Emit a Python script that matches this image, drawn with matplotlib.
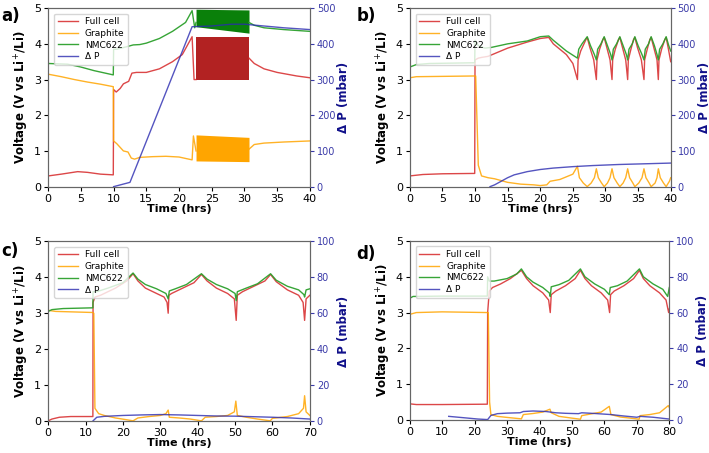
import numpy as np
import matplotlib.pyplot as plt

# ---------------- panel a (0-40 h, dP 0-500 mbar) ----------------
a_full_t = [0, 2, 4.5, 6, 8, 9.95, 10.0, 10.4, 11, 11.5, 12.3, 12.8, 13.5, 15, 17, 19, 20.5, 22.0, 22.3, 22.6]
a_full_v = [0.30, 0.35, 0.42, 0.40, 0.35, 0.33, 2.72, 2.65, 2.75, 2.88, 2.95, 3.18, 3.20, 3.20, 3.30, 3.50, 3.70, 4.20, 3.00, 3.00]
a_full_t2 = [30.7, 31.5, 33, 35, 38, 40]
a_full_v2 = [3.60, 3.45, 3.30, 3.20, 3.10, 3.05]

a_gr_t = [0, 2, 4, 6, 8, 9.95, 10.0, 10.5, 11, 11.5, 12.2, 12.7, 13.2, 14, 16, 18, 20, 22.0, 22.2, 22.6]
a_gr_v = [3.15, 3.08, 3.00, 2.93, 2.87, 2.80, 1.28, 1.20, 1.10, 1.00, 0.97, 0.80, 0.77, 0.82, 0.84, 0.85, 0.83, 0.75, 1.42, 1.00]
a_gr_t2 = [30.7, 31.5, 33, 36, 40]
a_gr_v2 = [1.05, 1.18, 1.22, 1.25, 1.28]

a_nmc_t = [0, 3, 5, 7, 9.95, 10.0, 10.5, 12, 13, 14, 15, 17, 19, 21, 22.0, 22.4, 22.6]
a_nmc_v = [3.45, 3.43, 3.35, 3.25, 3.13, 3.85, 3.85, 3.92, 3.97, 3.98, 4.02, 4.15, 4.35, 4.60, 4.93, 4.45, 4.60]
a_nmc_t2 = [30.7, 31.5, 33, 36, 40]
a_nmc_v2 = [4.60, 4.52, 4.45, 4.40, 4.35]

# dense cycling block 22.6-30.7 h: envelopes
a_cyc_t = [22.6, 30.7]
a_full_lo, a_full_hi = [3.00, 3.00], [4.20, 4.20]
a_gr_lo, a_gr_hi = [0.72, 0.70], [1.45, 1.38]
a_nmc_lo, a_nmc_hi = [4.48, 4.30], [4.97, 4.95]

a_dp_t = [10, 12.5, 22.0, 25, 28, 30, 33, 36, 40]
a_dp_v = [0, 12, 448, 450, 455, 455, 450, 445, 440]

# ---------------- panel b (0-40 h, dP 0-500 mbar) ----------------
b_full_t = [0, 2, 5, 9.95, 10.0, 10.5, 11, 12, 15, 18, 20, 21.3, 22, 23, 24, 25, 25.7,
            25.8, 26.2, 27.0, 27.2, 27.6, 28.2, 28.6,
            28.7, 29.1, 29.6, 29.8, 30.2, 30.7, 31.0,
            31.1, 31.5, 32.0, 32.2, 32.6, 33.1, 33.4,
            33.5, 33.9, 34.3, 34.5, 34.9, 35.5, 35.9,
            36.0, 36.4, 36.8, 37.0, 37.4, 37.9, 38.1,
            38.2, 38.6, 39.1, 39.3, 39.6, 40]
b_full_v = [0.30, 0.34, 0.36, 0.37, 3.55, 3.60, 3.62, 3.65, 3.88, 4.05, 4.15, 4.18, 4.00, 3.85, 3.70, 3.45, 3.00,
            3.55, 3.80, 4.12, 4.18, 3.90, 3.55, 3.00,
            3.55, 3.85, 4.12, 4.18, 3.90, 3.55, 3.00,
            3.55, 3.85, 4.12, 4.18, 3.90, 3.55, 3.00,
            3.55, 3.85, 4.12, 4.18, 3.90, 3.55, 3.00,
            3.55, 3.85, 4.12, 4.18, 3.90, 3.55, 3.00,
            3.55, 3.85, 4.12, 4.18, 3.90, 3.50]

b_nmc_t = [0, 1, 3, 9.95, 10.0, 10.5, 11.5, 12.5, 15, 18, 20, 21.3, 22, 24, 25.7,
           25.9, 26.4, 27.2, 27.7, 28.3, 28.6,
           28.8, 29.3, 29.8, 30.3, 30.8, 31.0,
           31.2, 31.7, 32.2, 32.7, 33.2, 33.4,
           33.6, 34.1, 34.5, 35.0, 35.6, 35.9,
           36.1, 36.6, 37.0, 37.5, 37.9, 38.1,
           38.3, 38.8, 39.3, 39.7, 40]
b_nmc_v = [3.35, 3.42, 3.45, 3.47, 4.10, 3.95, 3.88, 3.90, 4.00, 4.08, 4.20, 4.22, 4.10, 3.80, 3.60,
           3.85, 4.00, 4.20, 3.95, 3.70, 3.55,
           3.85, 4.00, 4.20, 3.95, 3.70, 3.55,
           3.85, 4.00, 4.20, 3.95, 3.70, 3.55,
           3.85, 4.00, 4.20, 3.95, 3.70, 3.55,
           3.85, 4.00, 4.20, 3.95, 3.70, 3.55,
           3.85, 4.00, 4.20, 3.95, 3.80]

b_gr_t = [0, 1, 9.95, 10.1, 10.5, 11, 12, 13, 15, 17, 19, 20, 21, 21.5, 23, 25, 25.7,
          26.0, 26.6, 27.2, 27.8, 28.3, 28.6,
          28.9, 29.4, 29.8, 30.3, 30.7, 31.0,
          31.3, 31.8, 32.2, 32.7, 33.1, 33.4,
          33.7, 34.2, 34.5, 35.1, 35.6, 35.9,
          36.2, 36.7, 37.0, 37.6, 37.9, 38.1,
          38.4, 38.9, 39.3, 39.8, 40]
b_gr_v = [3.05, 3.08, 3.10, 3.10, 0.60, 0.30, 0.25, 0.22, 0.12, 0.07, 0.05, 0.03, 0.05, 0.15, 0.20, 0.35, 0.57,
          0.25, 0.10, 0.00, 0.10, 0.25, 0.50,
          0.25, 0.10, 0.00, 0.10, 0.25, 0.50,
          0.25, 0.10, 0.00, 0.10, 0.25, 0.50,
          0.25, 0.10, 0.00, 0.10, 0.25, 0.50,
          0.25, 0.10, 0.00, 0.10, 0.25, 0.50,
          0.25, 0.10, 0.00, 0.15, 0.25]

b_dp_t = [12.3, 13, 14, 15, 16, 18, 20, 22, 25, 28, 32, 36, 40]
b_dp_v = [0, 5, 15, 25, 33, 42, 48, 52, 56, 59, 62, 64, 66]

# ---------------- panel c (0-70 h, dP 0-100 mbar) ----------------
c_full_t = [0, 1, 3, 6, 11.95, 12.0, 12.5, 14, 18, 21, 22.7, 24, 26, 29, 31, 31.8, 32.1, 32.3, 33, 36, 39, 41,
            42.5, 45, 48, 49.8, 50.3, 50.6, 52, 55, 58, 59.5, 61, 64, 67, 68.2, 68.6, 69, 70]
c_full_v = [0.00, 0.05, 0.10, 0.12, 0.12, 3.30, 3.45, 3.50, 3.70, 3.90, 4.10, 3.90, 3.70, 3.55, 3.45, 3.30, 3.00, 3.50, 3.55, 3.70, 3.85, 4.08,
            3.90, 3.70, 3.55, 3.40, 2.80, 3.50, 3.60, 3.75, 3.90, 4.08, 3.88, 3.65, 3.50, 3.30, 2.80, 3.40, 3.50]

c_nmc_t = [0, 1, 4, 11.95, 12.0, 13, 16, 20, 22.7, 24, 26, 29, 31.5, 32.1, 32.4, 34, 37, 41, 42.5, 45, 48, 50,
           50.3, 50.6, 53, 56, 59.5, 61, 64, 67, 68.4, 68.6, 69, 70]
c_nmc_v = [3.05, 3.10, 3.13, 3.15, 3.60, 3.60, 3.70, 3.85, 4.12, 3.95, 3.80, 3.68, 3.55, 3.40, 3.62, 3.68, 3.80, 4.10, 3.95, 3.80, 3.68, 3.55,
           3.35, 3.60, 3.70, 3.82, 4.10, 3.92, 3.75, 3.65, 3.52, 3.45, 3.65, 3.68]

c_gr_t = [0, 2, 11.9, 12.2, 12.5, 13.5, 15, 18, 21, 22.7, 24, 27, 30, 31.5, 32.1, 32.4, 35, 38, 41, 42, 45, 48,
          49.8, 50.2, 50.6, 53, 56, 59.4, 60, 64, 67, 68.3, 68.6, 69, 70]
c_gr_v = [3.08, 3.05, 3.02, 3.00, 0.35, 0.20, 0.15, 0.08, 0.03, 0.00, 0.08, 0.12, 0.15, 0.20, 0.30, 0.10, 0.08, 0.05, 0.00, 0.10, 0.12, 0.15,
          0.25, 0.55, 0.15, 0.10, 0.05, 0.00, 0.07, 0.12, 0.20, 0.35, 0.70, 0.25, 0.15]

c_dp_t = [12, 12.5, 13, 15, 20, 25, 30, 35, 40, 45, 50, 55, 60, 65, 70]
c_dp_v = [0, 1, 2, 2.5, 3.0, 3.3, 3.5, 3.3, 3.0, 2.7, 2.6, 2.3, 2.0, 1.6, 1.0]

# ---------------- panel d (0-80 h, dP 0-100 mbar) ----------------
d_full_t = [0, 2, 10, 23.9, 24.0, 24.5, 25.5, 28, 31, 34.4, 36, 38, 41, 42.8, 43.3, 43.6, 45, 48, 51, 52.6,
            54, 56, 59, 61, 61.6, 61.9, 63, 66, 69, 70.8, 72, 74, 77, 79, 79.8, 80]
d_full_v = [0.45, 0.43, 0.43, 0.44, 3.00, 3.60, 3.70, 3.80, 3.95, 4.18, 3.95, 3.75, 3.55, 3.35, 3.00, 3.50, 3.60, 3.75, 3.95, 4.18,
            3.95, 3.75, 3.55, 3.35, 3.00, 3.50, 3.60, 3.75, 3.95, 4.18, 3.95, 3.75, 3.55, 3.35, 3.00, 3.10]

d_nmc_t = [0, 1, 10, 23.9, 24.0, 24.5, 26, 30, 33, 34.4, 36, 38, 41, 43, 43.3, 43.6, 46, 49, 52.6,
           54, 57, 60, 61.5, 61.8, 64, 67, 70.8, 72, 75, 78, 79.5, 80]
d_nmc_v = [3.40, 3.45, 3.46, 3.46, 4.00, 3.88, 3.88, 3.95, 4.08, 4.22, 4.00, 3.85, 3.70, 3.55, 3.45, 3.72, 3.78, 3.90, 4.22,
           4.00, 3.80, 3.65, 3.50, 3.70, 3.75, 3.88, 4.22, 4.00, 3.80, 3.65, 3.45, 3.70]

d_gr_t = [0, 2, 10, 24.2, 24.6, 25, 27, 30, 34.4, 35, 38, 41, 43.2, 43.6, 46, 50, 52.6, 53, 56, 59,
          61.5, 62, 65, 68, 70.7, 71, 74, 77, 79.7, 80]
d_gr_v = [2.95, 3.00, 3.02, 3.00, 0.50, 0.15, 0.10, 0.07, 0.03, 0.15, 0.18, 0.22, 0.30, 0.20, 0.10, 0.05, 0.02, 0.12, 0.17, 0.22,
          0.38, 0.15, 0.08, 0.05, 0.02, 0.12, 0.15, 0.20, 0.40, 0.35]

d_dp_t = [12, 15, 18, 21, 24, 25, 27, 30, 34, 35, 38, 42, 45, 48, 52, 53, 57, 62, 66, 70, 71, 75, 80]
d_dp_v = [2.0, 1.5, 1.0, 0.5, 0.2, 2.5, 3.5, 3.8, 4.0, 4.7, 5.0, 4.7, 4.0, 3.7, 3.5, 4.0, 3.6, 3.0, 2.2, 1.5, 2.0, 1.5, 0.5]

C_FULL = '#d62728'
C_GR = '#ffa500'
C_NMC = '#2ca02c'
C_DP = '#2a2ab0'
C_RAX = '#3a3aa8'

fig = plt.figure(figsize=(7.09, 4.53), dpi=100)
rects = {
    'a': [0.068, 0.588, 0.369, 0.394],
    'b': [0.578, 0.588, 0.368, 0.394],
    'c': [0.068, 0.071, 0.369, 0.396],
    'd': [0.578, 0.073, 0.366, 0.395],
}
letters_pos = {'a': (0.002, 0.985), 'b': (0.503, 0.985), 'c': (0.002, 0.465), 'd': (0.503, 0.46)}

panels = {
    'a': dict(full=[(a_full_t, a_full_v), (a_full_t2, a_full_v2)], gr=[(a_gr_t, a_gr_v), (a_gr_t2, a_gr_v2)],
              nmc=[(a_nmc_t, a_nmc_v), (a_nmc_t2, a_nmc_v2)], dp=(a_dp_t, a_dp_v), xmax=40, xstep=5, pmax=500, pstep=100),
    'b': dict(full=[(b_full_t, b_full_v)], gr=[(b_gr_t, b_gr_v)], nmc=[(b_nmc_t, b_nmc_v)],
              dp=(b_dp_t, b_dp_v), xmax=40, xstep=5, pmax=500, pstep=100),
    'c': dict(full=[(c_full_t, c_full_v)], gr=[(c_gr_t, c_gr_v)], nmc=[(c_nmc_t, c_nmc_v)],
              dp=(c_dp_t, c_dp_v), xmax=70, xstep=10, pmax=100, pstep=20),
    'd': dict(full=[(d_full_t, d_full_v)], gr=[(d_gr_t, d_gr_v)], nmc=[(d_nmc_t, d_nmc_v)],
              dp=(d_dp_t, d_dp_v), xmax=80, xstep=10, pmax=100, pstep=20),
}

for key, p in panels.items():
    ax = fig.add_axes(rects[key])
    lw = 1.0
    for i, (t, v) in enumerate(p['full']):
        ax.plot(t, v, color=C_FULL, lw=lw, alpha=0.85, label='Full cell' if i == 0 else None)
    for i, (t, v) in enumerate(p['gr']):
        ax.plot(t, v, color=C_GR, lw=lw, alpha=0.85, label='Graphite' if i == 0 else None)
    for i, (t, v) in enumerate(p['nmc']):
        ax.plot(t, v, color=C_NMC, lw=lw, alpha=0.95, label='NMC622' if i == 0 else None)
    if key == 'a':
        ax.fill_between(a_cyc_t, a_full_lo, a_full_hi, color='#b22222', lw=0)
        ax.fill_between(a_cyc_t, a_gr_lo, a_gr_hi, color='#ffa500', lw=0)
        ax.fill_between(a_cyc_t, a_nmc_lo, a_nmc_hi, color='#0a800a', lw=0)
    ax.set_xlim(0, p['xmax'])
    ax.set_ylim(0, 5)
    ax.set_xticks(np.arange(0, p['xmax'] + 1, p['xstep']))
    ax.set_yticks(range(0, 6))
    ax.tick_params(labelsize=8, length=3, pad=2)
    ax.set_xlabel('Time (hrs)', fontsize=8, fontweight='bold', labelpad=0)
    ax.set_ylabel('Voltage (V vs Li$^{+}$/Li)', fontsize=8.5, fontweight='bold', labelpad=2)
    for s in ax.spines.values():
        s.set_color('#666666')

    ax2 = ax.twinx()
    ax2.plot(p['dp'][0], p['dp'][1], color=C_DP, lw=lw, alpha=0.8, label='Δ P')
    ax2.set_ylim(0, p['pmax'])
    ax2.set_yticks(np.arange(0, p['pmax'] + 1, p['pstep']))
    ax2.tick_params(labelsize=7, length=3, pad=2, colors=C_RAX)
    ax2.set_ylabel('Δ P (mbar)', fontsize=8.5, fontweight='bold', color='#10108a', labelpad=1)
    for s in ax2.spines.values():
        s.set_color('#666666')

    h1, l1 = ax.get_legend_handles_labels()
    h2, l2 = ax2.get_legend_handles_labels()
    leg = ax2.legend(h1 + h2, l1 + l2, loc='upper left', fontsize=6.5, frameon=True,
                     labelspacing=0.3, handlelength=2.2, borderpad=0.4, bbox_to_anchor=(0.005, 0.995))
    leg.get_frame().set_edgecolor('#cccccc')

    lx, ly = letters_pos[key]
    fig.text(lx, ly, f'{key})', fontsize=12, fontweight='bold', va='top', ha='left')

plt.savefig('out.png', dpi=100)
